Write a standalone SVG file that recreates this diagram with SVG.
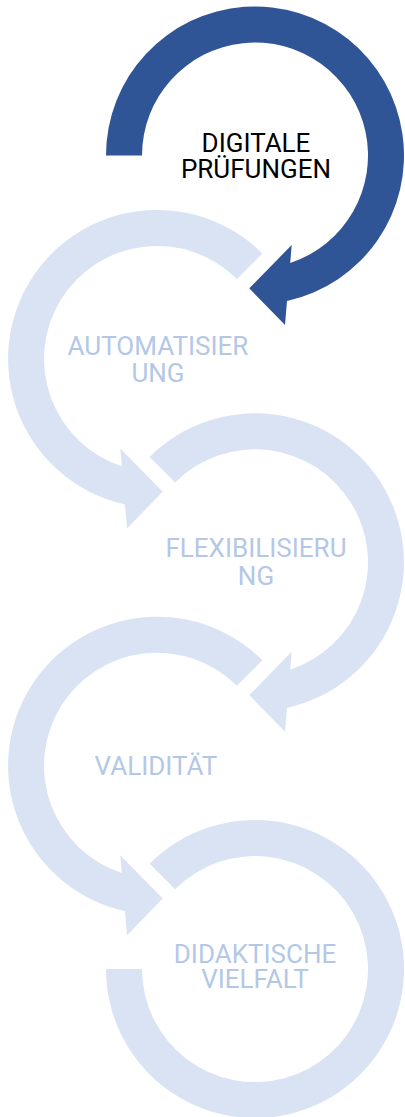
<svg xmlns="http://www.w3.org/2000/svg" width="405" height="1117" viewBox="0 0 405 1117">
<style>
.dark{fill:#2F5597}
.light{fill:#DAE3F3}
text{font-family:Roboto,"Liberation Sans",sans-serif;font-size:26px;text-anchor:middle}
.t1{fill:#000000}
.t2{fill:#B4C7E7}
</style>
<defs>
<path id="first" d="M-149,0 A149,149 0 1 1 32,145.5 L30,169.5 L-5.7,132.8 L36.7,89.5 L35.2,107.4 A113,113 0 1 0 -113,0 Z"/>
<path id="mid" d="M-105.4,-105.4 A149,149 0 1 1 32,145.5 L30,169.5 L-5.7,132.8 L36.7,89.5 L35.2,107.4 A113,113 0 1 0 -79.9,-79.9 Z"/>
<path id="last" d="M-105.4,-105.4 A149,149 0 1 1 -149,0 L-113,0 A113,113 0 1 0 -79.9,-79.9 Z"/>
</defs>
<g id="connectors"></g>
<g id="n1">
<use href="#first" class="dark" transform="translate(255,155.5)"/>
<text class="t1" x="256" y="152.3">DIGITALE</text>
<text class="t1" x="256" y="178.3">PRÜFUNGEN</text>
</g>
<g id="n2">
<use href="#mid" class="light" transform="translate(157,358.9) scale(-1,1)"/>
<text class="t2" x="158" y="355">AUTOMATISIER</text>
<text class="t2" x="158" y="381.7">UNG</text>
</g>
<g id="n3">
<use href="#mid" class="light" transform="translate(255,562.3)"/>
<text class="t2" x="256" y="556.7">FLEXIBILISIERU</text>
<text class="t2" x="256" y="585">NG</text>
</g>
<g id="n4">
<use href="#mid" class="light" transform="translate(157,765.7) scale(-1,1)"/>
<text class="t2" x="156" y="775">VALIDITÄT</text>
</g>
<g id="n5">
<use href="#last" class="light" transform="translate(255,969.1)"/>
<text class="t2" x="255" y="963.3">DIDAKTISCHE</text>
<text class="t2" x="255" y="988.3">VIELFALT</text>
</g>
</svg>
